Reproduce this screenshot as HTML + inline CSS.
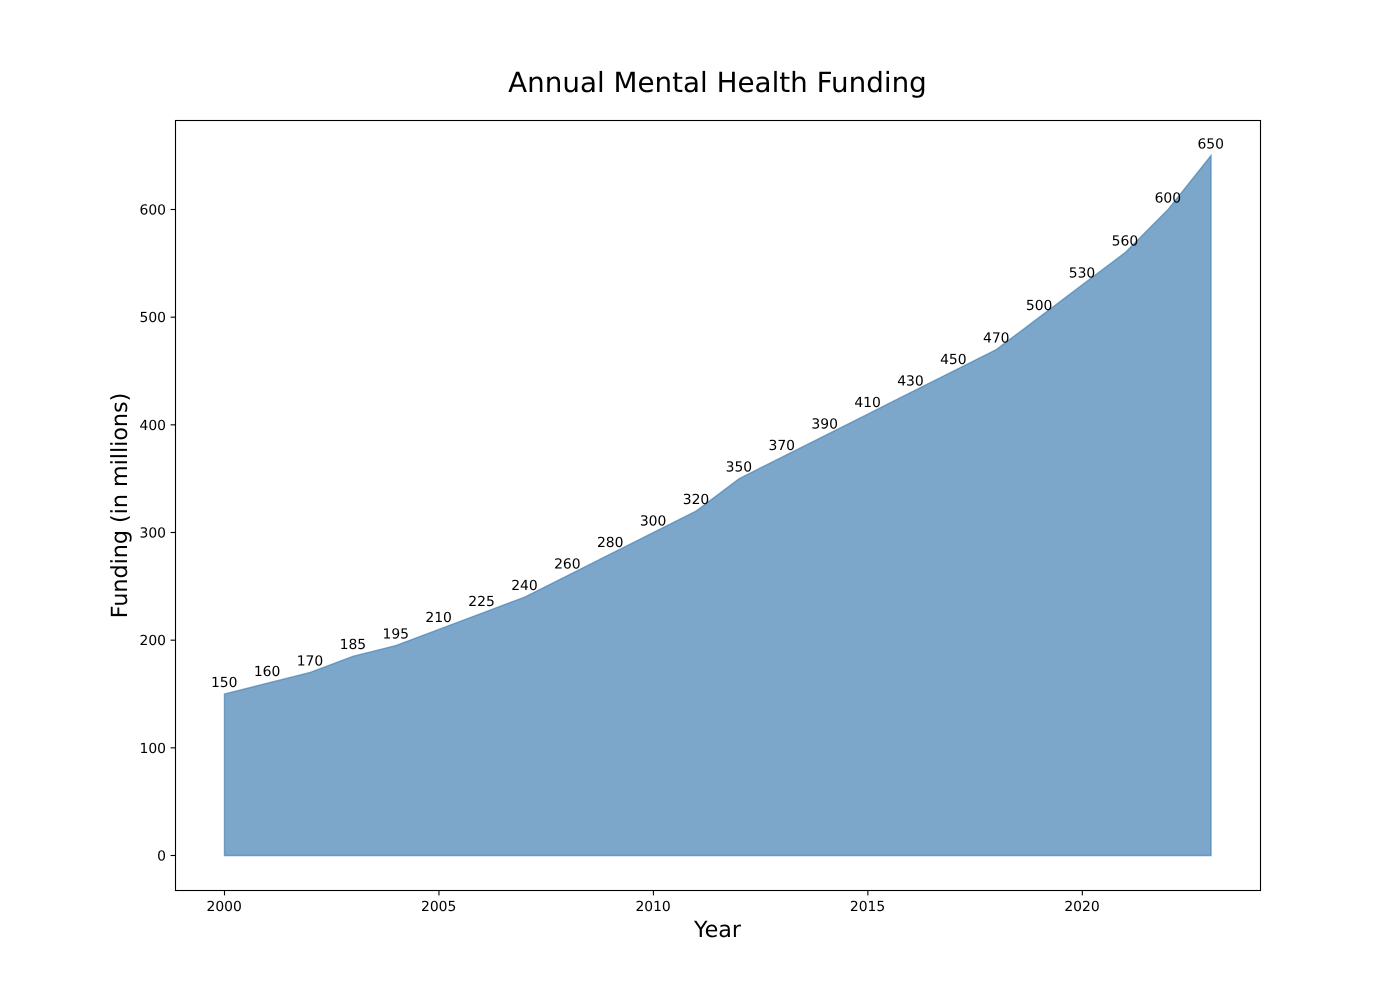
<!DOCTYPE html>
<html>
<head>
<meta charset="utf-8">
<style>
html,body{margin:0;padding:0;background:#fff;}
svg{display:block;font-family:"DejaVu Sans","Liberation Sans",sans-serif;text-rendering:geometricPrecision;}
</style>
</head>
<body>
<svg id="chart" width="1400" height="1000" viewBox="0 0 1400 1000" xmlns="http://www.w3.org/2000/svg">
<rect x="0" y="0" width="1400" height="1000" fill="#fff"/>
<text x="717.5" y="92" font-size="27.78" text-anchor="middle" fill="#000">Annual Mental Health Funding</text>
<text x="717.5" y="937" font-size="22.22" text-anchor="middle" fill="#000">Year</text>
<text transform="translate(127,505.5) rotate(-90)" font-size="22.22" text-anchor="middle" fill="#000">Funding (in millions)</text>
<g id="marks"></g>
<rect x="175.5" y="120.5" width="1085" height="770" fill="none" stroke="#000" stroke-width="1.1"/>
<g id="ticks"></g>
<g id="labels"></g>
</svg>
<script>
const years = [2000,2001,2002,2003,2004,2005,2006,2007,2008,2009,2010,2011,2012,2013,2014,2015,2016,2017,2018,2019,2020,2021,2022,2023];
const funding = [150,160,170,185,195,210,225,240,260,280,300,320,350,370,390,410,430,450,470,500,530,560,600,650];
const xTickValues = [2000,2005,2010,2015,2020];
const yTickValues = [0,100,200,300,400,500,600];

const NS = 'http://www.w3.org/2000/svg';
function xScale(v){ return 224.5 + (v - 2000) * (1211 - 224.5) / 23; }
function yScale(v){ return 855.5 - v * (855.5 - 209.5) / 600; }
function make(tag, attrs, parent){
  const el = document.createElementNS(NS, tag);
  for (const k in attrs) el.setAttribute(k, attrs[k]);
  parent.appendChild(el);
  return el;
}

const marks = document.getElementById('marks');
const ticks = document.getElementById('ticks');
const labels = document.getElementById('labels');

let d = 'M' + xScale(years[0]) + ' ' + yScale(0);
years.forEach(function(y, i){ d += ' L' + xScale(y) + ' ' + yScale(funding[i]); });
d += ' L' + xScale(years[years.length - 1]) + ' ' + yScale(0) + ' Z';
const area = make('path', {d: d, fill: '#4682b4', 'fill-opacity': 0.7, stroke: '#4682b4', 'stroke-opacity': 0.7, 'stroke-width': 1.4}, marks);



xTickValues.forEach(function(v){
  const x = xScale(v);
  const t = make('line', {x1: x, x2: x, y1: 890.5, y2: 895.4, stroke: '#000', 'stroke-width': 1.1}, ticks);
  
  
  const l = make('text', {x: x - 0.3, y: 911, 'font-size': 13.89, 'text-anchor': 'middle', fill: '#000'}, ticks);
  
  
  l.textContent = v;
});

yTickValues.forEach(function(v){
  const y = yScale(v);
  const t = make('line', {x1: 170.6, x2: 175.5, y1: y, y2: y, stroke: '#000', 'stroke-width': 1.1}, ticks);
  
  
  const l = make('text', {x: 166, y: y + 5, 'font-size': 13.89, 'text-anchor': 'end', fill: '#000'}, ticks);
  
  
  l.textContent = v;
});

years.forEach(function(y, i){
  const l = make('text', {x: xScale(y) - 0.3, y: yScale(funding[i]) - 7.2, 'font-size': 13.89, 'text-anchor': 'middle', fill: '#000'}, labels);
  
  
  l.textContent = funding[i];
});
</script>
</body>
</html>
